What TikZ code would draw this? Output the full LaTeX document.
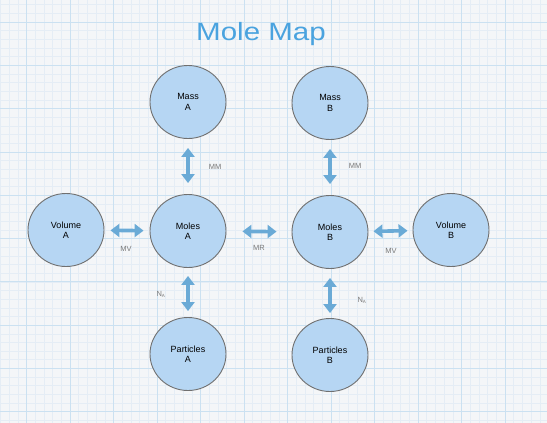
\documentclass[tikz,border=0pt]{standalone}
\usepackage{fontspec}
\setmainfont{Liberation Sans}
\usetikzlibrary{arrows.meta,shapes.geometric}
\definecolor{bgc}{RGB}{244,246,248}
\definecolor{minorc}{RGB}{229,237,245}
\definecolor{majorc}{RGB}{203,225,241}
\definecolor{circfill}{RGB}{182,214,243}
\definecolor{circline}{RGB}{112,112,112}
\definecolor{arrc}{RGB}{106,170,214}
\definecolor{titlec}{RGB}{74,163,223}
\definecolor{labc}{RGB}{120,120,120}
\tikzset{
  bubble/.style={ellipse, draw=circline, line width=0.9pt, fill=circfill,
    minimum width=76pt, minimum height=73pt, inner sep=0pt, align=center,
    font=\fontsize{9}{10.5}\selectfont},
  dbl/.style={arrc, line width=3.6pt,
    {Triangle[width=13pt,length=9pt]}-{Triangle[width=13pt,length=9pt]}},
  lab/.style={text=labc, font=\fontsize{7.5}{9}\selectfont, inner sep=0pt}
}
\begin{document}
\begin{tikzpicture}[x=1pt,y=-1pt]
\useasboundingbox (0,0) rectangle (547,423);
\fill[bgc] (0,0) rectangle (547,423);
% grid
\foreach \i in {-3,...,60}{
  \pgfmathsetmacro\gx{26.5+\i*8.7}
  \draw[minorc, line width=0.5pt] (\gx,0) -- (\gx,423);
}
\foreach \j in {-3,...,48}{
  \pgfmathsetmacro\gy{22+\j*8.66}
  \draw[minorc, line width=0.5pt] (0,\gy) -- (547,\gy);
}
\foreach \i in {-1,...,12}{
  \pgfmathsetmacro\gx{26.5+\i*43.5}
  \draw[majorc, line width=0.7pt] (\gx,0) -- (\gx,423);
}
\foreach \j in {-1,...,10}{
  \pgfmathsetmacro\gy{22+\j*43.3}
  \draw[majorc, line width=0.7pt] (0,\gy) -- (547,\gy);
}
% title
\node[text=titlec, inner sep=0pt] (title) at (261,34)
  {\scalebox{1.18}[1]{\fontsize{25}{30}\selectfont Mole Map}};
% bubbles
\node[bubble] (massA) at (188,102) {Mass\\A};
\node[bubble] (massB) at (330,103) {Mass\\B};
\node[bubble] (volA) at (66,230) {Volume\\A};
\node[bubble] (molA) at (188,231) {Moles\\A};
\node[bubble] (molB) at (330,232) {Moles\\B};
\node[bubble] (volB) at (451,230) {Volume\\B};
\node[bubble] (partA) at (188,354) {Particles\\A};
\node[bubble] (partB) at (330,355) {Particles\\B};
% arrows
\draw[dbl, shorten <=9pt, shorten >=11pt] (massA) -- (molA);
\draw[dbl, shorten <=9pt, shorten >=11pt] (massB) -- (molB);
\draw[dbl, shorten <=6pt, shorten >=6pt] (volA) -- (molA);
\draw[dbl, shorten <=16pt, shorten >=15pt] (molA) -- (molB);
\draw[dbl, shorten <=5pt, shorten >=5pt] (molB) -- (volB);
\draw[dbl, shorten <=8pt, shorten >=6pt] (molA) -- (partA);
\draw[dbl, shorten <=9pt, shorten >=5pt] (molB) -- (partB);
% labels
\node[lab] (lmmA) at (215,167) {MM};
\node[lab] (lmmB) at (355,166) {MM};
\node[lab] (lmvA) at (126,249) {MV};
\node[lab] (lmr) at (259,248) {MR};
\node[lab] (lmvB) at (391,251) {MV};
\node[lab] (lnaA) at (161,294) {N\textsubscript{\fontsize{4.5}{5}\selectfont A}};
\node[lab] (lnaB) at (362,300) {N\textsubscript{\fontsize{4.5}{5}\selectfont A}};
\end{tikzpicture}
\end{document}
